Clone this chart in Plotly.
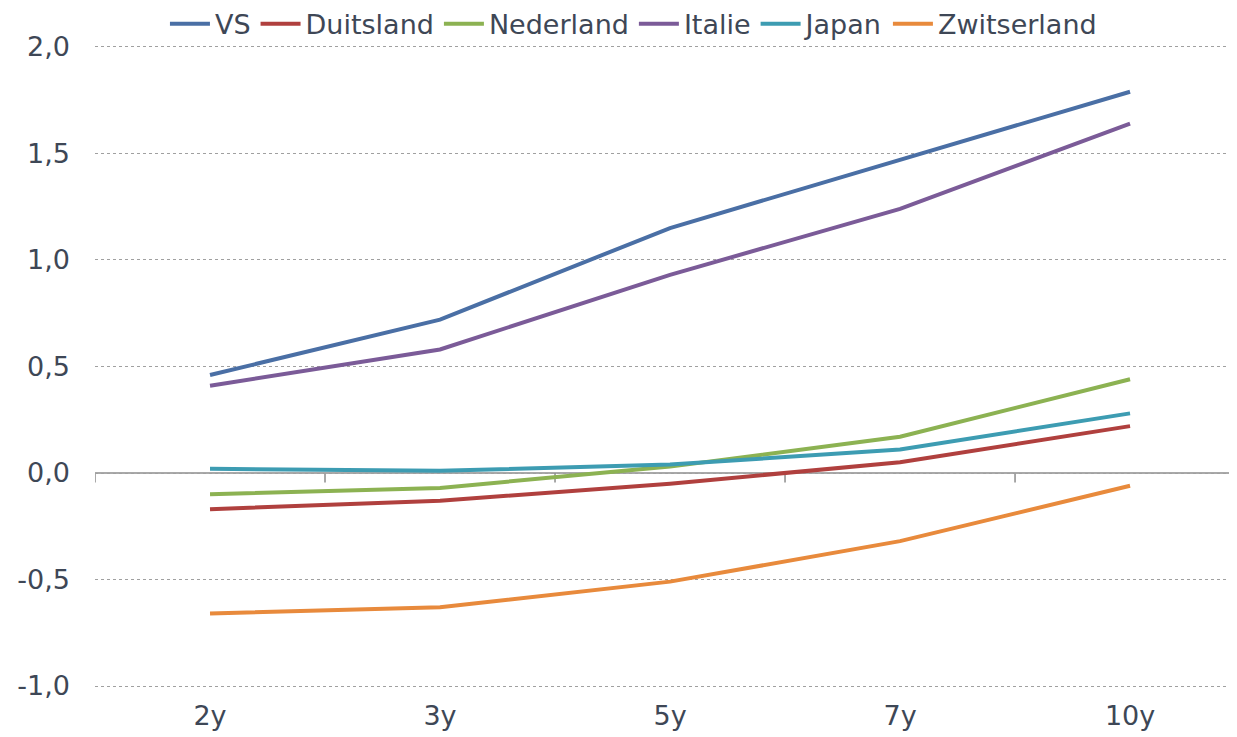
import plotly.graph_objects as go

categories = ["2y", "3y", "5y", "7y", "10y"]
vs = [0.46, 0.72, 1.15, 1.47, 1.79]
duitsland = [-0.17, -0.13, -0.05, 0.05, 0.22]
nederland = [-0.10, -0.07, 0.03, 0.17, 0.44]
italie = [0.41, 0.58, 0.93, 1.24, 1.64]
japan = [0.02, 0.01, 0.04, 0.11, 0.28]
zwitserland = [-0.66, -0.63, -0.51, -0.32, -0.06]

y_tickvals = [-1.0, -0.5, 0.0, 0.5, 1.0, 1.5, 2.0]
y_ticktext = ["-1,0", "-0,5", "0,0", "0,5", "1,0", "1,5", "2,0"]

series = [
    ("VS", vs, "#4a6fa5"),
    ("Duitsland", duitsland, "#b0403e"),
    ("Nederland", nederland, "#8cb252"),
    ("Italie", italie, "#7b5b98"),
    ("Japan", japan, "#3d9cb2"),
    ("Zwitserland", zwitserland, "#e88a3c"),
]

text_color = "#3e4756"
font_family = "DejaVu Sans, Verdana, sans-serif"

fig = go.Figure()
for name, vals, color in series:
    fig.add_trace(go.Scatter(x=categories, y=vals, name=name, mode="lines",
                             legendgroup=name,
                             line=dict(color=color, width=4)))

# zero axis line with category-boundary tick marks
fig.add_shape(type="line", xref="paper", yref="y", x0=0, x1=1, y0=0, y1=0,
              line=dict(color="#8c8c8c", width=1.5), layer="below")
for b in [-0.5, 0.5, 1.5, 2.5, 3.5]:
    fig.add_shape(type="line", xref="x", yref="y", x0=b, x1=b, y0=0, y1=-0.045,
                  line=dict(color="#8c8c8c", width=1.5), layer="below")

fig.update_layout(
    width=1229, height=729,
    margin=dict(l=87, r=0, t=0, b=40, autoexpand=False),
    paper_bgcolor="white", plot_bgcolor="white",
    font=dict(family=font_family, size=27, color=text_color),
    showlegend=True,
    legend=dict(orientation="h", xref="paper", x=0.4715, xanchor="center",
                yref="paper", y=1.012, yanchor="top",
                font=dict(size=27, color=text_color),
                itemwidth=40, tracegroupgap=20, bgcolor="rgba(0,0,0,0)"),
    xaxis=dict(type="category", range=[-0.5, 4.465], showgrid=False,
               showline=False, ticks="", zeroline=False,
               tickfont=dict(size=27, color=text_color)),
    yaxis=dict(range=[-1.0516, 2.183], tickvals=y_tickvals, ticktext=y_ticktext,
               showgrid=True, gridcolor="#a0a0a0", gridwidth=1,
               griddash="3px,3px", zeroline=False, showline=False,
               ticks="", ticklabelstandoff=24,
               tickfont=dict(size=27, color=text_color)),
)

fig.write_html("out.html")
